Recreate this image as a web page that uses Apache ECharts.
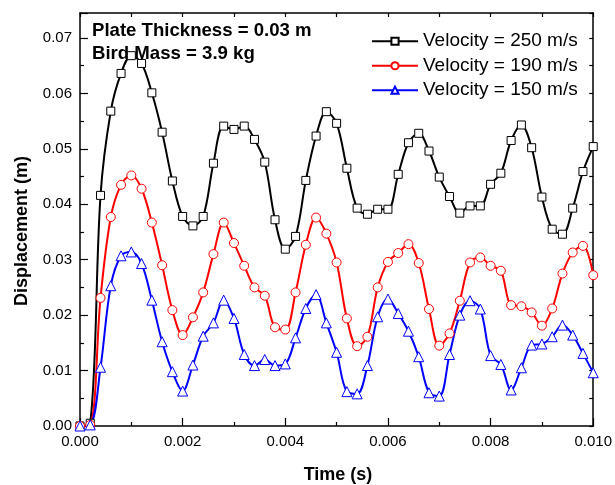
<!DOCTYPE html>
<html>
<head>
<meta charset="utf-8">
<script src="https://cdn.jsdelivr.net/npm/echarts@6/dist/echarts.min.js"></script>
<style>html,body{margin:0;padding:0;background:#fff}#c{width:615px;height:485px}</style>
</head>
<body>
<div id="c"></div>
<script>
var times = [0,0.0002,0.0004,0.0006,0.0008,0.001,0.0012,0.0014,0.0016,0.0018,
  0.002,0.0022,0.0024,0.0026,0.0028,0.003,0.0032,0.0034,0.0036,0.0038,
  0.004,0.0042,0.0044,0.0046,0.0048,0.005,0.0052,0.0054,0.0056,0.0058,
  0.006,0.0062,0.0064,0.0066,0.0068,0.007,0.0072,0.0074,0.0076,0.0078,
  0.008,0.0082,0.0084,0.0086,0.0088,0.009,0.0092,0.0094,0.0096,0.0098,0.01];
var v250 = [0,0.0005,0.0416,0.0568,0.0636,0.0668,0.0654,0.0601,0.0530,0.0442,
  0.0378,0.0361,0.0378,0.0474,0.0541,0.0535,0.0541,0.0517,0.0476,0.0372,
  0.0319,0.0342,0.0443,0.0523,0.0567,0.0546,0.0465,0.0393,0.0382,0.0391,
  0.0391,0.0454,0.0511,0.0528,0.0496,0.0449,0.0414,0.0384,0.0397,0.0397,
  0.0436,0.0456,0.0515,0.0543,0.0502,0.0413,0.0355,0.0346,0.0393,0.0459,0.0504];
var v190 = [0,0.0002,0.0231,0.0377,0.0435,0.0452,0.0428,0.0367,0.0290,0.0209,
  0.0164,0.0196,0.0241,0.0310,0.0367,0.0330,0.0289,0.0250,0.0235,0.0178,
  0.0174,0.0241,0.0327,0.0376,0.0347,0.0295,0.0194,0.0144,0.0161,0.0250,
  0.0296,0.0312,0.0328,0.0294,0.0211,0.0145,0.0167,0.0226,0.0295,0.0304,
  0.0289,0.0280,0.0218,0.0216,0.0205,0.0181,0.0212,0.0275,0.0313,0.0325,0.0272];
var v150 = [0,0.0002,0.0106,0.0253,0.0307,0.0314,0.0293,0.0227,0.0152,0.0098,
  0.0063,0.0110,0.0162,0.0186,0.0227,0.0194,0.0129,0.0109,0.0120,0.0109,
  0.0112,0.0159,0.0212,0.0237,0.0186,0.0133,0.0062,0.0058,0.0109,0.0197,
  0.0229,0.0203,0.0171,0.0125,0.0060,0.0054,0.0129,0.0200,0.0226,0.0211,
  0.0127,0.0111,0.0065,0.0105,0.0146,0.0148,0.0161,0.0182,0.0164,0.0131,0.0096];
var seriesNames = ['Velocity = 250 m/s','Velocity = 190 m/s','Velocity = 150 m/s'];
var annotations = ['Plate Thickness = 0.03 m','Bird Mass = 3.9 kg'];
var xTitle = 'Time (s)';
var yTitle = 'Displacement (m)';

var FONT = 'Arial, "Liberation Sans", sans-serif';
function pairs(vals){ return times.map(function(t,i){ return [t, vals[i]]; }); }
function mkSeries(name, vals, color, symbol, size){
  return {
    name: name, type: 'line', data: pairs(vals), smooth: 0.35,
    symbol: symbol, symbolSize: size, showAllSymbol: true,
    lineStyle: {color: color, width: 2},
    itemStyle: {color: '#fff', borderColor: color, borderWidth: 1},
    emphasis: {disabled: true}, animation: false
  };
}
var axLine = {show: true, onZero: false, lineStyle: {color: '#000', width: 1.5}};
var chart = echarts.init(document.getElementById('c'), null, {renderer: 'canvas'});
chart.setOption({
  animation: false,
  grid: {left: 80, right: 21, top: 13, bottom: 59, containLabel: false},
  xAxis: [{
    type: 'value', min: 0, max: 0.01, interval: 0.002, position: 'bottom',
    axisLine: axLine,
    axisTick: {show: true, inside: true, length: 8, lineStyle: {color: '#000', width: 1.2}},
    minorTick: {show: true, splitNumber: 2, length: 4, lineStyle: {color: '#000', width: 1.2}},
    axisLabel: {color: '#000', fontSize: 15, fontFamily: FONT, margin: 8,
      formatter: function(v){ return v.toFixed(3); }},
    splitLine: {show: false}
  }, {
    type: 'value', min: 0, max: 0.01, interval: 0.001, position: 'top',
    axisLine: axLine,
    axisTick: {show: true, inside: true, length: 4, lineStyle: {color: '#000', width: 1.2}},
    axisLabel: {show: false}, splitLine: {show: false}
  }],
  yAxis: [{
    type: 'value', min: 0, max: 0.0745, interval: 0.01, position: 'left',
    axisLine: axLine,
    axisTick: {show: true, inside: true, length: 8, lineStyle: {color: '#000', width: 1.2}},
    minorTick: {show: true, splitNumber: 2, length: 4, lineStyle: {color: '#000', width: 1.2}},
    axisLabel: {color: '#000', fontSize: 15, fontFamily: FONT, margin: 8, showMaxLabel: false,
      formatter: function(v){ return v.toFixed(2); }},
    splitLine: {show: false}
  }, {
    type: 'value', min: 0, max: 0.0745, interval: 0.005, position: 'right',
    axisLine: axLine,
    axisTick: {show: true, inside: true, length: 4, lineStyle: {color: '#000', width: 1.2}},
    axisLabel: {show: false}, splitLine: {show: false}
  }],
  legend: {
    orient: 'vertical', left: 366, top: 26, itemWidth: 46, itemHeight: 9, itemGap: 4,
    textStyle: {fontSize: 19, fontFamily: FONT, color: '#000', lineHeight: 20.5},
    data: seriesNames
  },
  series: [
    mkSeries(seriesNames[0], v250, '#000000', 'rect', 8),
    mkSeries(seriesNames[1], v190, '#ff0000', 'circle', 9),
    mkSeries(seriesNames[2], v150, '#0000ff', 'triangle', 10)
  ],
  graphic: [
    {type: 'text', left: 92, top: 21, style: {text: annotations[0], font: 'bold 18.6px ' + FONT, fill: '#000'}},
    {type: 'text', left: 92, top: 44, style: {text: annotations[1], font: 'bold 18.6px ' + FONT, fill: '#000'}},
    {type: 'text', x: 338, y: 475, style: {text: xTitle, font: 'bold 18px ' + FONT, fill: '#000', align: 'center', verticalAlign: 'middle'}},
    {type: 'text', x: 22, y: 231, rotation: Math.PI/2, style: {text: yTitle, font: 'bold 18px ' + FONT, fill: '#000', align: 'center', verticalAlign: 'middle'}}
  ]
});
</script>
</body>
</html>
